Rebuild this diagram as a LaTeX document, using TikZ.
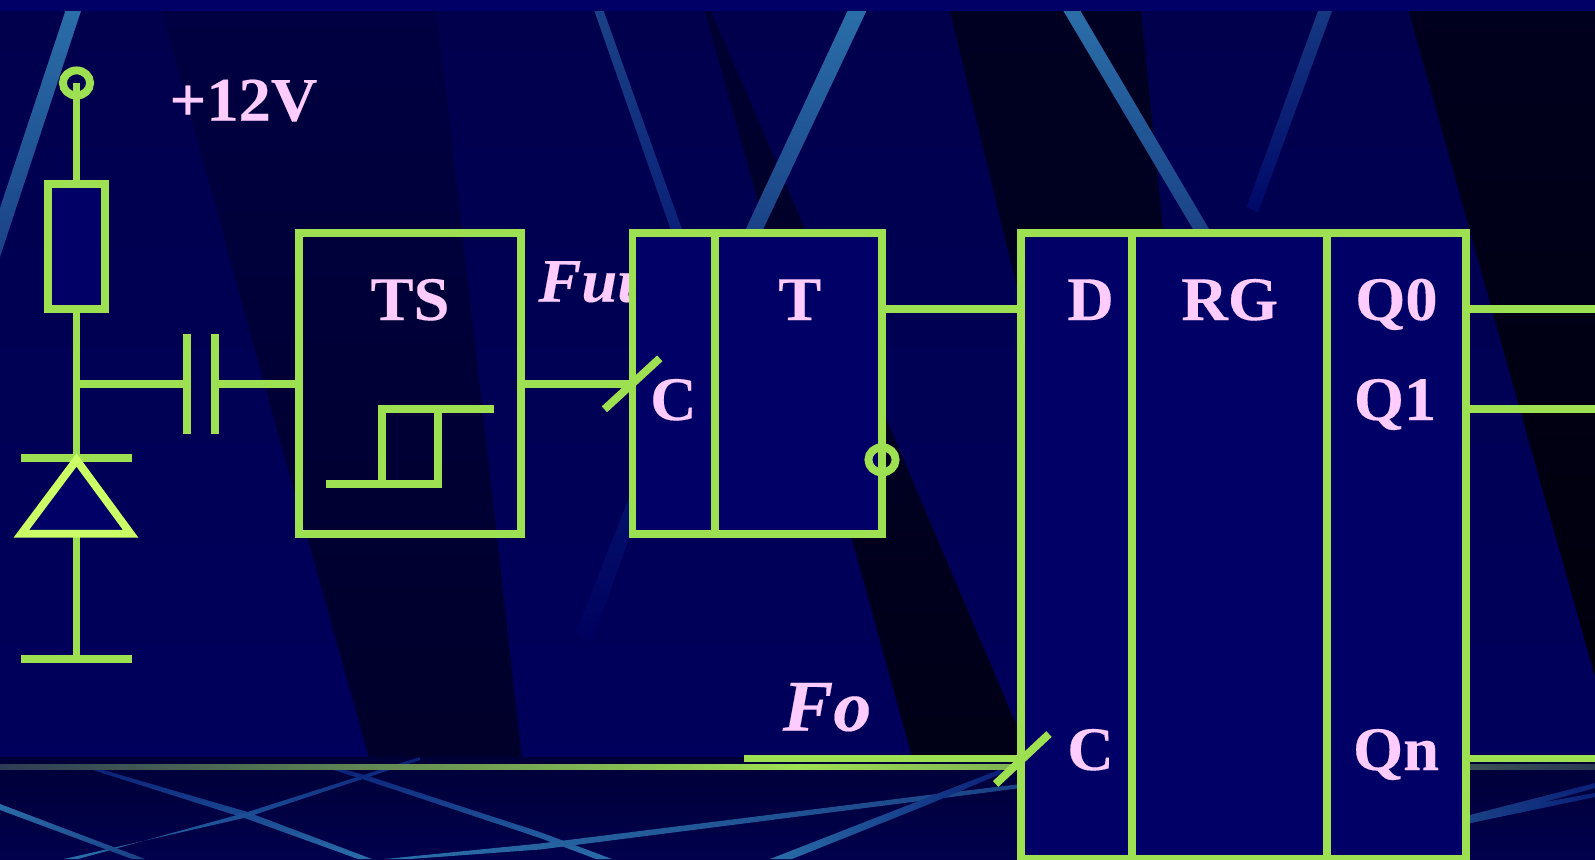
\documentclass[tikz,border=0pt]{standalone}
\usepackage{fontspec}
\setmainfont{Liberation Serif}[FakeStretch=1.04,FakeBold=0.25]
\definecolor{wire}{HTML}{9DE052}
\definecolor{dio}{HTML}{CCFF66}
\definecolor{txt}{HTML}{FFCCFF}
\definecolor{fillb}{HTML}{000066}
\definecolor{sA}{HTML}{2A6EA8}
\definecolor{sB}{HTML}{1A4286}
\definecolor{sC}{HTML}{0A2078}
\begin{document}
\begin{tikzpicture}[x=0.5pt,y=-0.5pt,
  ww/.style={draw=wire,line width=3.95pt},
  blockbox/.style={draw=wire,line width=3.95pt,rectangle,inner sep=0pt,outer sep=0pt,fill=fillb},
  openbox/.style={draw=wire,line width=3.95pt,rectangle,inner sep=0pt,outer sep=0pt},
  lab/.style={text=txt,inner sep=0pt,anchor=base,font=\fontsize{31}{31}\selectfont\bfseries},
  ilab/.style={text=txt,inner sep=0pt,anchor=base west,font=\fontsize{31}{31}\selectfont\bfseries\itshape},
  streak/.style={top color=#1,bottom color=sC,draw=none},
]
\useasboundingbox (0,0) rectangle (1595,859);
\begin{scope}
\clip (0,0) rectangle (1595,859);
% background
\shade[top color=black!0!blue!30!black,bottom color=fillb!92!black] (0,0) rectangle (1595,859);
\fill[fillb] (0,0) rectangle (1595,11);
% dark beams
\shade[top color={rgb,255:red,0;green,0;blue,66},bottom color={rgb,255:red,0;green,0;blue,42}]
  (162,11) -- (436.6,11) -- (484.8,430) -- (521.7,757) -- (369,757) -- (277,430) -- cycle;
\shade[top color={rgb,255:red,0;green,0;blue,50},bottom color={rgb,255:red,0;green,0;blue,22}]
  (705,11) -- (711,11) -- (805,229) -- (891,430) -- (1030,757) -- (912,757) -- (851.6,537.7) -- cycle;
\shade[top color={rgb,255:red,0;green,0;blue,34},bottom color={rgb,255:red,0;green,0;blue,28}]
  (950,11) -- (1141,11) -- (1170,300) -- (1170,500) -- (1020,300) -- cycle;
\shade[top color={rgb,255:red,0;green,0;blue,30},bottom color={rgb,255:red,0;green,0;blue,12}]
  (1408.7,11) -- (1595,11) -- (1595,676.7) -- (1525.7,430) -- (1469.4,229) -- cycle;
% light streaks
\shade[streak=sA,bottom color=sB] (65.4,11) -- (81,11) -- (0,257) -- (0,208) -- cycle;
\shade[streak=sB,bottom color=sC] (594.4,11) -- (603.7,11) -- (684,235) -- (672.6,235) -- cycle;
\shade[streak=sA,bottom color=sB] (847.5,11) -- (866.4,11) -- (760.4,235) -- (743,235) -- cycle;
\shade[streak=sA,bottom color=sB] (1063.4,11) -- (1080.5,11) -- (1212.5,235) -- (1196.5,235) -- cycle;
\shade[top color=sB!70!sC,bottom color={rgb,255:red,0;green,8;blue,104}]
  (1318,11) -- (1332,11) -- (1258,212.7) -- (1246.6,206.7) -- cycle;
\shade[top color={rgb,255:red,4;green,20;blue,110},bottom color={rgb,255:red,0;green,0;blue,94}]
  (640,470) -- (650,480) -- (591.6,643) -- (576,631.7) -- cycle;
% floor
\shade[top color={rgb,255:red,0;green,0;blue,56},bottom color={rgb,255:red,0;green,0;blue,76}] (0,757) rectangle (1595,859);
% floor lines
\shade[top color=sC,bottom color=sA] (93,767) -- (246,811.5) -- (372,859) -- (358,859) -- (246,818.5) -- (93,770) -- cycle;
\shade[top color=sC,bottom color=sA] (420,757) -- (246,812.5) -- (78,859) -- (64,859) -- (246,817.5) -- (420,760) -- cycle;
\shade[top color=sA,bottom color=sB] (0,804) -- (145,859) -- (132,859) -- (0,810) -- cycle;
\shade[top color=sC,bottom color=sA] (330.6,766) -- (366.7,775.5) -- (540,832) -- (612,859) -- (596,859) -- (540,838) -- (366.7,780.5) -- (330.6,769) -- cycle;
\shade[left color=sA,right color=sB] (385,859) -- (540,843.5) -- (920,796) -- (1021,784) -- (1021,788) -- (920,801) -- (540,849.5) -- (410,859) -- cycle;
\shade[left color=sA,right color=sC] (770,859) -- (925,798.5) -- (1000,769.5) -- (1003,773) -- (927,805) -- (792,859) -- cycle;
\shade[left color=sB,right color=sC] (1466,816) -- (1595,783) -- (1595,788) -- (1466,824) -- cycle;
\shade[left color=sB,right color=sC] (1466,816) -- (1595,793) -- (1595,797) -- (1466,824) -- cycle;
% horizon
\shade[left color={rgb,255:red,44;green,60;blue,84},right color={rgb,255:red,40;green,56;blue,84},middle color=wire] (0,764.5) rectangle (1595,769);
\end{scope}
% label hidden partly by the T block
\node[ilab] (fu) at (538,301.7) {Fuu};
% blocks
\node[blockbox,minimum width=28.1pt,minimum height=62.35pt] (res) at (76.5,246.35) {};
\node[openbox,minimum width=111pt,minimum height=150.2pt] (ts) at (410,383.5) {};
\node[blockbox,minimum width=124.75pt,minimum height=150.2pt] (tt) at (757.25,383.5) {};
\node[blockbox,minimum width=222.3pt,minimum height=312.85pt] (rg) at (1243.7,546.15) {};
% named points
\coordinate (vcc) at (76.5,83);
\coordinate (jn) at (76.5,383.7);
\coordinate (capa) at (187.3,383.7);
\coordinate (capb) at (215.2,383.7);
\coordinate (dtop) at (76.5,458.3);
\coordinate (dbot) at (76.5,533.7);
\coordinate (gnd) at (76.5,659);
\coordinate (tq) at (882,459.8);
\coordinate (cin) at (632.5,383.7);
\coordinate (dw) at (882,309);
\coordinate (fostart) at (743.5,758.5);
\coordinate (q0e) at (1595,309);
\coordinate (q1e) at (1595,409);
\coordinate (qne) at (1595,758.5);
% dividers
\draw[ww] (715.3,233.3) -- (715.3,533.7);
\draw[ww] (1132,233.3) -- (1132,859);
\draw[ww] (1327,233.3) -- (1327,859);
% left network
\draw[ww] (vcc) ellipse (13.6 and 12.6);
\draw[ww] (vcc) -- (res.north);
\draw[ww] (res.south) -- (dtop);
\draw[ww] (jn) -- (capa);
\draw[ww] (capb) -- (ts.west |- capb);
\draw[ww] (187.3,334) -- (187.3,434);
\draw[ww] (215.2,334) -- (215.2,434);
\draw[ww] (21,458.3) -- (132,458.3);
\draw[ww] (dbot) -- (gnd);
\draw[ww] (21,659) -- (132,659);
\draw[draw=dio,line width=3.95pt,fill=fillb,miter limit=10] (76.5,460) -- (130.6,533.7) -- (21.4,533.7) -- cycle;
% hysteresis symbol
\draw[ww] (326.4,483.7) -- (437.7,483.7);
\draw[ww] (382,483.7) -- (382,409) -- (493.5,409);
\draw[ww,line cap=rect] (437.7,409) -- (437.7,483.7);
% signal wires
\draw[ww] (ts.east |- cin) -- (cin);
\draw[ww] (604.4,409.3) -- (659.8,358.3);
\draw[ww] (dw) -- (rg.west |- dw);
\draw[ww] (tq) ellipse (13.6 and 12.6);
\draw[ww] (fostart) -- (rg.west |- fostart);
\draw[ww] (995.6,784) -- (1049,734);
\draw[ww] (rg.east |- q0e) -- (q0e);
\draw[ww] (rg.east |- q1e) -- (q1e);
\draw[ww] (rg.east |- qne) -- (qne);
% labels
\node[lab] (v12) at (243.5,120.7) {+12V};
\node[lab] (lts) at (410,320) {TS};
\node[lab] (lt) at (799.8,320) {T};
\node[lab] (lc) at (673.4,420) {C};
\node[lab] (ld) at (1090.5,320) {D};
\node[lab] (lrg) at (1229.7,320) {RG};
\node[lab] (lq0) at (1396.4,320) {Q0};
\node[lab] (lq1) at (1395,420) {Q1};
\node[lab] (lc2) at (1090.5,770) {C};
\node[lab] (lqn) at (1396,770) {Qn};
\node[lab,font=\fontsize{36.5}{36.5}\selectfont\bfseries\itshape] (lfo) at (827,730.7) {Fo};
\end{tikzpicture}
\end{document}
